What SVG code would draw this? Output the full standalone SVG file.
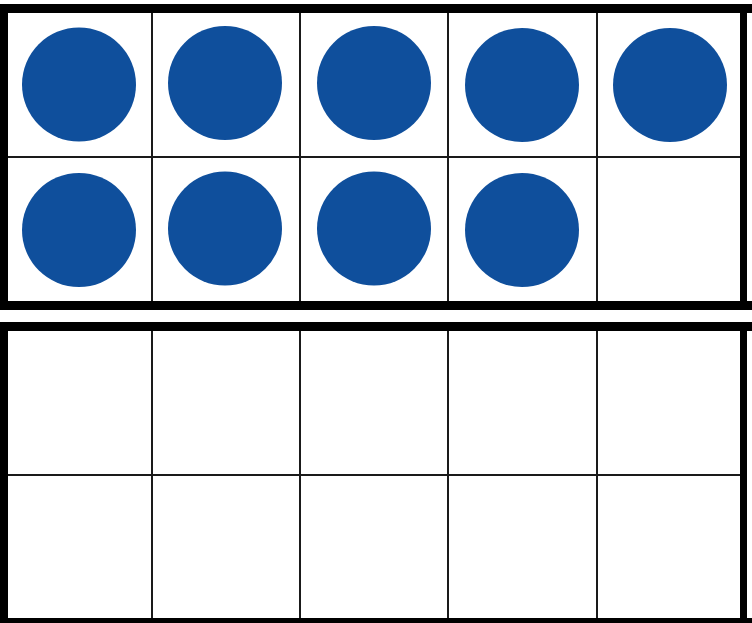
<svg xmlns="http://www.w3.org/2000/svg" width="752" height="623" viewBox="0 0 752 623">
<style>
.band{fill:#000}
.grid{stroke:#1a1a1a;stroke-width:2;fill:none}
.dot{fill:#0F4F9C}
</style>
<rect x="0" y="0" width="752" height="623" fill="#fff"/>
<g id="frame-top">
  <g class="grid">
    <line x1="152" y1="8" x2="152" y2="305"/>
    <line x1="300" y1="8" x2="300" y2="305"/>
    <line x1="448" y1="8" x2="448" y2="305"/>
    <line x1="597" y1="8" x2="597" y2="305"/>
    <line x1="4" y1="157" x2="744" y2="157"/>
  </g>
  <rect class="band" x="0" y="4" width="752" height="9"/>
  <rect class="band" x="0" y="301" width="752" height="9"/>
  <rect class="band" x="0" y="4" width="8" height="306"/>
  <rect class="band" x="740" y="4" width="7" height="306"/>
</g>
<g id="frame-bottom">
  <g class="grid">
    <line x1="152" y1="326" x2="152" y2="623"/>
    <line x1="300" y1="326" x2="300" y2="623"/>
    <line x1="448" y1="326" x2="448" y2="623"/>
    <line x1="597" y1="326" x2="597" y2="623"/>
    <line x1="4" y1="475" x2="744" y2="475"/>
  </g>
  <rect class="band" x="0" y="322" width="752" height="9"/>
  <rect class="band" x="0" y="618" width="752" height="9"/>
  <rect class="band" x="0" y="322" width="8" height="301"/>
  <rect class="band" x="740" y="322" width="7" height="301"/>
</g>
<g id="counters">
  <g id="c1"><circle class="dot" cx="79" cy="84.5" r="57"/></g>
  <g id="c2"><circle class="dot" cx="225" cy="83" r="57"/></g>
  <g id="c3"><circle class="dot" cx="374" cy="83" r="57"/></g>
  <g id="c4"><circle class="dot" cx="522" cy="85" r="57"/></g>
  <g id="c5"><circle class="dot" cx="670" cy="85" r="57"/></g>
  <g id="c6"><circle class="dot" cx="79" cy="230" r="57"/></g>
  <g id="c7"><circle class="dot" cx="225" cy="228.5" r="57"/></g>
  <g id="c8"><circle class="dot" cx="374" cy="228.5" r="57"/></g>
  <g id="c9"><circle class="dot" cx="522" cy="230" r="57"/></g>
</g>
</svg>
